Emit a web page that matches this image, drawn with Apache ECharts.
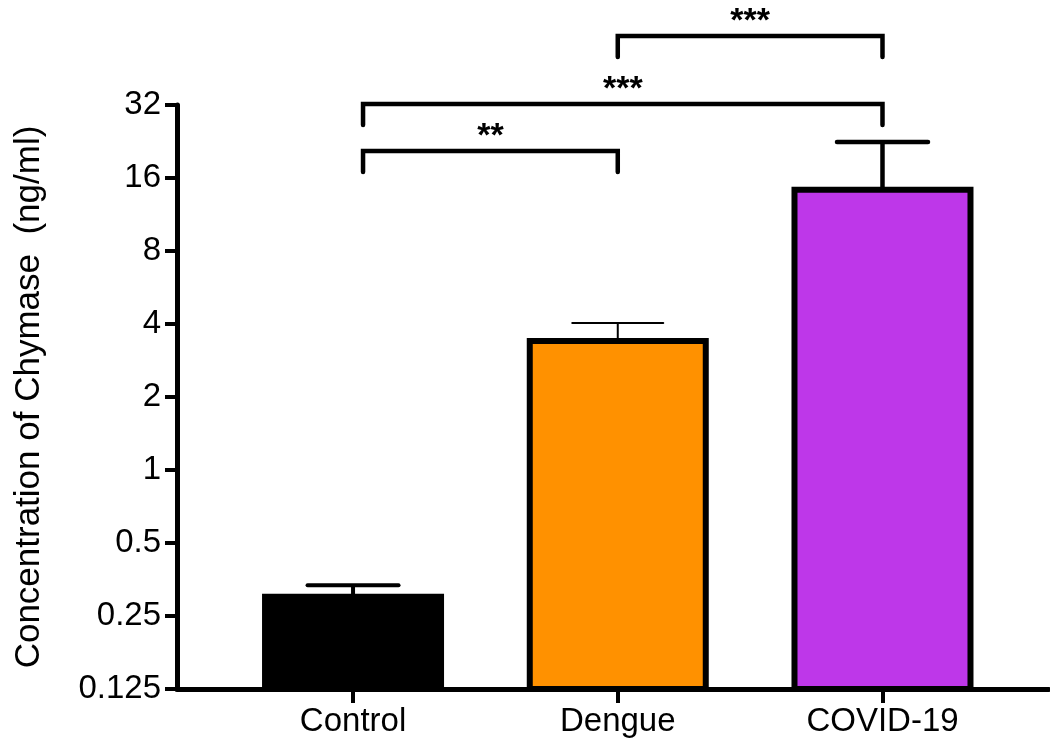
<!DOCTYPE html>
<html>
<head>
<meta charset="utf-8">
<script src="https://cdn.jsdelivr.net/npm/echarts@6/dist/echarts.min.js"></script>
<style>html,body{margin:0;padding:0;background:#fff}#c{width:1050px;height:747px}</style>
</head>
<body>
<div id="c"></div>
<script>
const categories = ['Control', 'Dengue', 'COVID-19'];
const means = [0.30, 3.40, 14.3];
const errTops = [0.335, 4.04, 22.5];
const yTicks = [0.125, 0.25, 0.5, 1, 2, 4, 8, 16, 32];
const bracketPairs = [[0, 1], [0, 2], [1, 2]];
const bracketHeights = [20.7, 32.3, 61.6];
const bracketLabels = ['**', '***', '***'];

const colors = ['#000000', '#FF9100', '#BE37E9'];
const errWidths = [4, 2, 4.5];
const endOffset = [10, 0, 0];
const FONT = '"Liberation Sans", Arial, Helvetica, sans-serif';

const chart = echarts.init(document.getElementById('c'));
chart.setOption({
  animation: false,
  backgroundColor: '#fff',
  grid: { left: 177, right: 1, top: 105, bottom: 58, containLabel: false },
  xAxis: {
    type: 'value',
    min: -0.665,
    max: 2.629,
    splitLine: { show: false },
    axisLine: { onZero: false, lineStyle: { color: '#000', width: 5 } },
    axisTick: { customValues: [0, 1, 2], length: 14, lineStyle: { color: '#000', width: 4 } },
    axisLabel: {
      customValues: [0, 1, 2],
      formatter: v => categories[Math.round(v)],
      color: '#000', fontSize: 33, fontFamily: FONT, margin: 16
    }
  },
  yAxis: {
    type: 'log',
    logBase: 2,
    min: yTicks[0],
    max: yTicks[yTicks.length - 1],
    name: 'Concentration of Chymase  (ng/ml)',
    nameLocation: 'middle',
    nameGap: 130,
    nameTextStyle: { color: '#000', fontSize: 35, fontFamily: FONT },
    splitLine: { show: false },
    axisLine: { show: true, onZero: false, lineStyle: { color: '#000', width: 5 } },
    axisTick: { show: true, customValues: yTicks, length: 12, lineStyle: { color: '#000', width: 4 } },
    axisLabel: {
      customValues: yTicks,
      formatter: v => String(v),
      color: '#000', fontSize: 33, fontFamily: FONT, margin: 16
    }
  },
  series: [
    {
      type: 'custom',
      name: 'error',
      z: 2,
      clip: false,
      data: categories.map((c, i) => [i, means[i], errTops[i]]),
      encode: { x: 0, y: [1, 2] },
      renderItem: (params, api) => {
        const i = params.dataIndex;
        const b = api.coord([api.value(0), api.value(1)]);
        const t = api.coord([api.value(0), api.value(2)]);
        const w = errWidths[i];
        return {
          type: 'group',
          children: [
            { type: 'line', shape: { x1: b[0], y1: b[1], x2: t[0], y2: t[1] }, style: { stroke: '#000', lineWidth: w } },
            { type: 'line', shape: { x1: t[0] - 45.5, y1: t[1], x2: t[0] + 45.5, y2: t[1] }, style: { stroke: '#000', lineWidth: w, lineCap: 'round' } }
          ]
        };
      }
    },
    {
      type: 'custom',
      name: 'bars',
      z: 3,
      data: categories.map((c, i) => [i, means[i]]),
      encode: { x: 0, y: 1 },
      renderItem: (params, api) => {
        const i = params.dataIndex;
        const top = api.coord([api.value(0), api.value(1)]);
        const base = api.coord([api.value(0), yTicks[0]]);
        return {
          type: 'rect',
          shape: { x: top[0] - 88, y: top[1], width: 176, height: base[1] - top[1] },
          style: { fill: colors[i], stroke: '#000', lineWidth: 6 }
        };
      }
    },
    {
      type: 'custom',
      name: 'brackets',
      z: 4,
      clip: false,
      data: bracketPairs.map((p, k) => [p[0], p[1], bracketHeights[k], k]),
      encode: { x: [0, 1], y: 2 },
      renderItem: (params, api) => {
        const k = params.dataIndex;
        const a = api.value(0), b = api.value(1), h = api.value(2);
        const p1 = api.coord([a, h]);
        const p2 = api.coord([b, h]);
        const x1 = p1[0] + endOffset[a];
        const x2 = p2[0] + endOffset[b];
        const y = p1[1];
        const drop = 21;
        return {
          type: 'group',
          children: [
            {
              type: 'polyline',
              shape: { points: [[x1, y + drop], [x1, y], [x2, y], [x2, y + drop]] },
              style: { stroke: '#000', lineWidth: 4.5, fill: null, lineCap: 'round', lineJoin: 'miter' }
            },
            {
              type: 'text',
              x: (x1 + x2) / 2,
              y: y - 14,
              style: {
                text: bracketLabels[k], fill: '#000', fontSize: 34, fontWeight: 'bold', fontFamily: FONT,
                align: 'center', verticalAlign: 'middle'
              }
            }
          ]
        };
      }
    }
  ]
});
</script>
</body>
</html>
